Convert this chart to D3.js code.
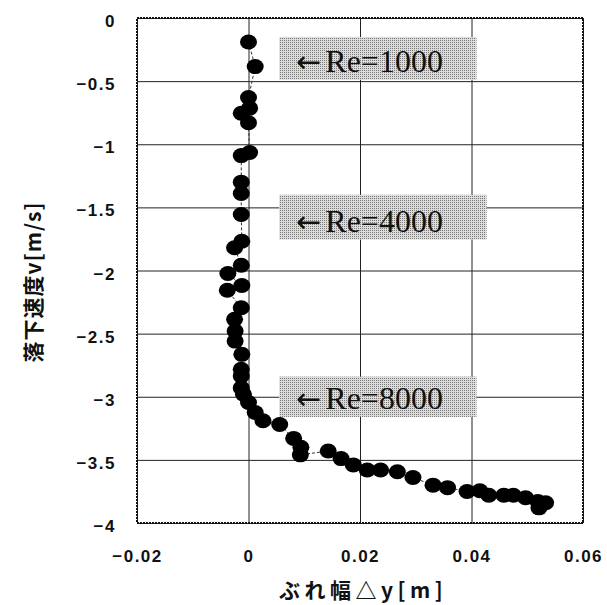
<!DOCTYPE html>
<html lang="ja">
<head>
<meta charset="UTF-8">
<title>ぶれ幅と落下速度</title>
<script src="https://d3js.org/d3.v7.min.js"></script>
<style>
  body { margin: 0; background: #fff; }
  .tick text { font-family: "Liberation Sans", Arial, sans-serif; font-weight: bold; font-size: 17px; letter-spacing: 1.5px; fill: #111; }
  .title { font-family: "Noto Sans CJK JP", sans-serif; font-weight: bold; fill: #111; }
  .note { font-family: "Liberation Serif", "DejaVu Serif", serif; font-size: 32px; fill: #111; }
  .arrow { font-family: "DejaVu Sans", sans-serif; font-size: 30px; font-weight: normal; }
</style>
</head>
<body>
<svg width="607" height="605"></svg>
<script>
// ぶれ幅 Δy [m]
var dy = [0, 0.0012, 0, 0.0002, -0.0013, 0, 0.0002, -0.0013, -0.0013, -0.0013,
  -0.0013, -0.0012, -0.0025, -0.0013, -0.0037, -0.0012, -0.0038, -0.0013, -0.0025, -0.0024,
  -0.0024, -0.0012, -0.0013, -0.0013, -0.0013, -0.0009, 0, 0.0012, 0.0026, 0.0056,
  0.0081, 0.0094, 0.0093, 0.0143, 0.0166, 0.0188, 0.0213, 0.0237, 0.0267, 0.0295,
  0.0331, 0.0357, 0.0392, 0.0415, 0.0431, 0.0458, 0.0475, 0.0497, 0.0519, 0.0521, 0.0533];
// 落下速度 v [m/s]
var v = [-0.19, -0.385, -0.63, -0.714, -0.754, -0.83, -1.065, -1.09, -1.30, -1.39,
  -1.557, -1.768, -1.82, -1.958, -2.024, -2.119, -2.156, -2.295, -2.387, -2.48,
  -2.559, -2.664, -2.783, -2.835, -2.93, -2.98, -3.046, -3.125, -3.19, -3.22,
  -3.33, -3.40, -3.46, -3.43, -3.49, -3.54, -3.58, -3.58, -3.594, -3.64,
  -3.70, -3.72, -3.75, -3.745, -3.78, -3.78, -3.78, -3.80, -3.83, -3.88, -3.84];

var xTicks = [-0.02, 0, 0.02, 0.04, 0.06];
var yTicks = [0, -0.5, -1, -1.5, -2, -2.5, -3, -3.5, -4];

var notes = ["Re=1000", "Re=4000", "Re=8000"];
var noteTop = [-0.15, -1.40, -2.84];
var noteBottom = [-0.49, -1.755, -3.16];
var noteRight = [0.0409, 0.0427, 0.0409];

var svg = d3.select("svg");
var x = d3.scaleLinear().domain([-0.02, 0.06]).range([137, 583]);
var y = d3.scaleLinear().domain([0, -4]).range([18, 523]);
var fmt = d3.format("");

// stipple
var pat = svg.append("defs").append("pattern")
    .attr("id", "dots").attr("width", 2).attr("height", 2)
    .attr("patternUnits", "userSpaceOnUse");
pat.append("rect").attr("width", 2).attr("height", 2).attr("fill", "#dcdcdc");
pat.append("rect").attr("width", 1).attr("height", 1).attr("fill", "#7a7a7a");

// grid
svg.append("g")
    .attr("transform", "translate(0,523)")
    .call(d3.axisBottom(x).tickValues(xTicks).tickSize(-505).tickFormat(""))
    .call(function(g) { g.select(".domain").remove(); })
    .selectAll("line").attr("stroke", "#222").attr("stroke-width", 1);
svg.append("g")
    .attr("transform", "translate(137,0)")
    .call(d3.axisLeft(y).tickValues(yTicks).tickSize(-446).tickFormat(""))
    .call(function(g) { g.select(".domain").remove(); })
    .selectAll("line").attr("stroke", "#222").attr("stroke-width", 1);

// note boxes
var nb = svg.append("g");
notes.forEach(function(t, i) {
  nb.append("rect")
    .attr("x", x(0.0055)).attr("y", y(noteTop[i]))
    .attr("width", x(noteRight[i]) - x(0.0055))
    .attr("height", y(noteBottom[i]) - y(noteTop[i]))
    .attr("fill", "url(#dots)");
  var tx = nb.append("text").attr("class", "note")
    .attr("x", x(0.0055) + 17)
    .attr("y", y(noteBottom[i]) - 8);
  tx.append("tspan").attr("class", "arrow").text("←");
  tx.append("tspan").attr("dx", 4).text(t);
});

// border
svg.append("rect")
    .attr("x", 137).attr("y", 18).attr("width", 446).attr("height", 505)
    .attr("fill", "none").attr("stroke", "#111").attr("stroke-width", 2)
    .attr("stroke-dasharray", "2,1");

// data
var pts = d3.range(dy.length).map(function(i) { return [dy[i], v[i]]; });
svg.append("path")
    .datum(pts)
    .attr("fill", "none").attr("stroke", "#333").attr("stroke-width", 1)
    .attr("stroke-dasharray", "3,2")
    .attr("d", d3.line().x(function(d) { return x(d[0]); }).y(function(d) { return y(d[1]); }));
svg.append("g").selectAll("ellipse")
    .data(pts).enter().append("ellipse")
    .attr("cx", function(d) { return x(d[0]); })
    .attr("cy", function(d) { return y(d[1]); })
    .attr("rx", 8.5).attr("ry", 7.5)
    .attr("fill", "#000");

// tick labels
svg.append("g")
    .attr("transform", "translate(137,0)")
    .call(d3.axisLeft(y).tickValues(yTicks).tickSize(0).tickPadding(21).tickFormat(fmt))
    .call(function(g) { g.select(".domain").remove(); })
    .selectAll("text").attr("dy", "0.5em");
svg.append("g")
    .attr("transform", "translate(0,523)")
    .call(d3.axisBottom(x).tickValues(xTicks).tickSize(0).tickPadding(27).tickFormat(fmt))
    .call(function(g) { g.select(".domain").remove(); });

// titles
svg.append("text").attr("class", "title")
    .attr("x", 363).attr("y", 598)
    .attr("text-anchor", "middle")
    .style("font-size", "21px").style("letter-spacing", "4.5px")
    .text("ぶれ幅△y[m]");
svg.append("text").attr("class", "title")
    .attr("transform", "translate(41,282) rotate(-90)")
    .attr("text-anchor", "middle")
    .style("font-size", "21px").style("letter-spacing", "1px")
    .text("落下速度v[m/s]");
</script>
</body>
</html>
